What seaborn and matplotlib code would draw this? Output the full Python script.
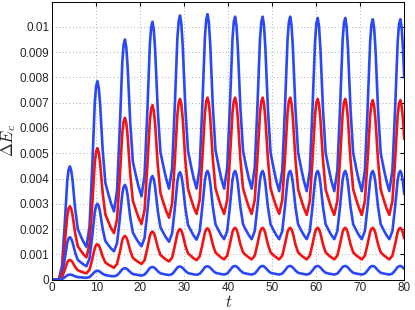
import numpy as np
import pandas as pd
import matplotlib
matplotlib.use("Agg")
import matplotlib.pyplot as plt
from matplotlib.ticker import FuncFormatter
import seaborn as sns

# time samples (denser around each peak)
t = [0, 0.5, 1.0,
     1.5, 2.2, 2.8, 3.4, 3.7, 4.0, 4.3, 4.6, 5.2, 5.8, 6.5, 7.1,
     7.76, 8.46, 9.06, 9.66, 9.96, 10.26, 10.56, 10.86, 11.46, 12.06, 12.76, 13.36,
     14.02, 14.72, 15.32, 15.92, 16.22, 16.52, 16.82, 17.12, 17.72, 18.32, 19.02, 19.62,
     20.28, 20.98, 21.58, 22.18, 22.48, 22.78, 23.08, 23.38, 23.98, 24.58, 25.28, 25.88,
     26.54, 27.24, 27.84, 28.44, 28.74, 29.04, 29.34, 29.64, 30.24, 30.84, 31.54, 32.14,
     32.80, 33.50, 34.10, 34.70, 35.00, 35.30, 35.60, 35.90, 36.50, 37.10, 37.80, 38.40,
     39.06, 39.76, 40.36, 40.96, 41.26, 41.56, 41.86, 42.16, 42.76, 43.36, 44.06, 44.66,
     45.32, 46.02, 46.62, 47.22, 47.52, 47.82, 48.12, 48.42, 49.02, 49.62, 50.32, 50.92,
     51.58, 52.28, 52.88, 53.48, 53.78, 54.08, 54.38, 54.68, 55.28, 55.88, 56.58, 57.18,
     57.84, 58.54, 59.14, 59.74, 60.04, 60.34, 60.64, 60.94, 61.54, 62.14, 62.84, 63.44,
     64.10, 64.80, 65.40, 66.00, 66.30, 66.60, 66.90, 67.20, 67.80, 68.40, 69.10, 69.70,
     70.36, 71.06, 71.66, 72.26, 72.56, 72.86, 73.16, 73.46, 74.06, 74.66, 75.36, 75.96,
     76.62, 77.32, 77.92, 78.52, 78.82, 79.12, 79.42, 79.72, 80.00]

# Delta E_c values, in units of 1e-3
e1 = [0, 0, 0,
      0, 0.54, 2.11, 3.90, 4.35, 4.48, 4.32, 3.94, 2.80, 2.00, 1.71, 1.49,
      1.30, 2.09, 4.38, 7.00, 7.65, 7.85, 7.59, 6.97, 5.12, 3.83, 3.37, 3.01,
      2.70, 3.52, 5.90, 8.62, 9.30, 9.50, 9.19, 8.45, 6.21, 4.66, 4.11, 3.67,
      3.30, 4.13, 6.54, 9.30, 9.99, 10.20, 9.87, 9.08, 6.70, 5.05, 4.46, 4.00,
      3.60, 4.42, 6.82, 9.56, 10.24, 10.45, 10.11, 9.29, 6.82, 5.11, 4.49, 4.01,
      3.60, 4.43, 6.84, 9.60, 10.29, 10.50, 10.16, 9.33, 6.84, 5.12, 4.50, 4.01,
      3.60, 4.42, 6.80, 9.52, 10.20, 10.40, 10.06, 9.24, 6.80, 5.10, 4.48, 4.01,
      3.60, 4.42, 6.80, 9.52, 10.20, 10.40, 10.06, 9.23, 6.74, 5.02, 4.40, 3.91,
      3.50, 4.33, 6.74, 9.50, 10.19, 10.40, 10.06, 9.23, 6.74, 5.02, 4.40, 3.91,
      3.50, 4.32, 6.72, 9.46, 10.15, 10.35, 10.01, 9.19, 6.72, 5.01, 4.39, 3.91,
      3.50, 4.32, 6.72, 9.46, 10.15, 10.35, 10.01, 9.19, 6.72, 5.01, 4.39, 3.91,
      3.50, 4.32, 6.70, 9.42, 10.10, 10.30, 9.96, 9.14, 6.70, 5.00, 4.38, 3.91,
      3.50, 4.32, 6.70, 9.42, 10.10, 10.30, 9.96, 9.14, 7.99]

e2 = [0, 0, 0,
      0, 0.35, 1.36, 2.52, 2.81, 2.90, 2.80, 2.56, 1.83, 1.32, 1.14, 1.00,
      0.88, 1.40, 2.91, 4.64, 5.07, 5.20, 5.03, 4.63, 3.42, 2.58, 2.28, 2.04,
      1.84, 2.39, 3.98, 5.81, 6.26, 6.40, 6.19, 5.69, 4.17, 3.12, 2.75, 2.45,
      2.20, 2.76, 4.41, 6.29, 6.76, 6.90, 6.68, 6.14, 4.54, 3.43, 3.03, 2.72,
      2.45, 3.01, 4.66, 6.54, 7.01, 7.15, 6.92, 6.38, 4.74, 3.60, 3.19, 2.87,
      2.60, 3.15, 4.76, 6.60, 7.06, 7.20, 6.97, 6.42, 4.76, 3.61, 3.20, 2.88,
      2.60, 3.15, 4.76, 6.60, 7.06, 7.20, 6.97, 6.42, 4.76, 3.61, 3.20, 2.88,
      2.60, 3.15, 4.76, 6.60, 7.06, 7.20, 6.97, 6.42, 4.76, 3.61, 3.20, 2.88,
      2.60, 3.15, 4.76, 6.60, 7.06, 7.20, 6.97, 6.41, 4.74, 3.58, 3.16, 2.84,
      2.56, 3.11, 4.72, 6.55, 7.01, 7.15, 6.92, 6.37, 4.72, 3.57, 3.16, 2.84,
      2.56, 3.11, 4.72, 6.55, 7.01, 7.15, 6.92, 6.37, 4.72, 3.57, 3.16, 2.84,
      2.56, 3.11, 4.69, 6.51, 6.96, 7.10, 6.87, 6.33, 4.69, 3.56, 3.15, 2.83,
      2.56, 3.11, 4.69, 6.51, 6.96, 7.10, 6.87, 6.33, 5.56]

e3 = [0, 0, 0,
      0, 0.20, 0.79, 1.46, 1.63, 1.68, 1.62, 1.48, 1.07, 0.78, 0.68, 0.60,
      0.53, 0.83, 1.69, 2.68, 2.93, 3.00, 2.91, 2.68, 2.00, 1.53, 1.36, 1.23,
      1.12, 1.44, 2.36, 3.41, 3.67, 3.75, 3.63, 3.34, 2.46, 1.86, 1.64, 1.47,
      1.32, 1.65, 2.63, 3.74, 4.02, 4.10, 3.97, 3.66, 2.72, 2.07, 1.84, 1.66,
      1.50, 1.83, 2.79, 3.89, 4.17, 4.25, 4.12, 3.80, 2.84, 2.17, 1.93, 1.74,
      1.58, 1.91, 2.86, 3.95, 4.22, 4.30, 4.17, 3.84, 2.87, 2.19, 1.95, 1.76,
      1.60, 1.92, 2.87, 3.95, 4.22, 4.30, 4.17, 3.84, 2.87, 2.19, 1.95, 1.76,
      1.60, 1.92, 2.87, 3.95, 4.22, 4.30, 4.17, 3.84, 2.87, 2.19, 1.95, 1.76,
      1.60, 1.92, 2.87, 3.95, 4.22, 4.30, 4.17, 3.84, 2.87, 2.19, 1.95, 1.76,
      1.60, 1.92, 2.87, 3.95, 4.22, 4.30, 4.17, 3.84, 2.87, 2.19, 1.95, 1.76,
      1.60, 1.92, 2.87, 3.95, 4.22, 4.30, 4.17, 3.84, 2.87, 2.19, 1.95, 1.76,
      1.60, 1.92, 2.87, 3.95, 4.22, 4.30, 4.17, 3.84, 2.87, 2.19, 1.95, 1.76,
      1.60, 1.92, 2.87, 3.95, 4.22, 4.30, 4.17, 3.84, 3.38]

e4 = [0, 0, 0,
      0, 0.09, 0.37, 0.68, 0.76, 0.78, 0.75, 0.69, 0.50, 0.37, 0.32, 0.28,
      0.25, 0.39, 0.79, 1.25, 1.37, 1.40, 1.35, 1.24, 0.91, 0.68, 0.59, 0.53,
      0.47, 0.62, 1.06, 1.57, 1.69, 1.73, 1.67, 1.54, 1.14, 0.86, 0.76, 0.69,
      0.62, 0.77, 1.22, 1.73, 1.86, 1.90, 1.84, 1.70, 1.28, 0.98, 0.87, 0.79,
      0.72, 0.87, 1.32, 1.83, 1.96, 2.00, 1.94, 1.79, 1.35, 1.04, 0.93, 0.84,
      0.77, 0.92, 1.36, 1.87, 1.99, 2.03, 1.97, 1.82, 1.38, 1.07, 0.96, 0.87,
      0.80, 0.95, 1.39, 1.89, 2.01, 2.05, 1.99, 1.84, 1.39, 1.08, 0.96, 0.88,
      0.80, 0.95, 1.39, 1.89, 2.01, 2.05, 1.99, 1.84, 1.39, 1.08, 0.96, 0.88,
      0.80, 0.95, 1.39, 1.89, 2.01, 2.05, 1.99, 1.84, 1.39, 1.08, 0.96, 0.88,
      0.80, 0.95, 1.39, 1.89, 2.01, 2.05, 1.99, 1.84, 1.39, 1.08, 0.96, 0.88,
      0.80, 0.95, 1.39, 1.89, 2.01, 2.05, 1.99, 1.84, 1.39, 1.08, 0.96, 0.88,
      0.80, 0.95, 1.39, 1.89, 2.01, 2.05, 1.99, 1.84, 1.39, 1.08, 0.96, 0.88,
      0.80, 0.95, 1.39, 1.89, 2.01, 2.05, 1.99, 1.84, 1.63]

e5 = [0, 0, 0,
      0, 0.02, 0.09, 0.17, 0.19, 0.20, 0.19, 0.18, 0.13, 0.10, 0.09, 0.08,
      0.07, 0.10, 0.20, 0.31, 0.34, 0.35, 0.34, 0.31, 0.23, 0.18, 0.16, 0.14,
      0.13, 0.17, 0.28, 0.41, 0.44, 0.45, 0.44, 0.40, 0.30, 0.22, 0.20, 0.18,
      0.16, 0.20, 0.32, 0.46, 0.49, 0.50, 0.48, 0.45, 0.33, 0.25, 0.22, 0.20,
      0.18, 0.22, 0.34, 0.48, 0.51, 0.52, 0.50, 0.46, 0.35, 0.26, 0.23, 0.21,
      0.19, 0.23, 0.35, 0.49, 0.52, 0.53, 0.51, 0.47, 0.36, 0.27, 0.24, 0.22,
      0.20, 0.24, 0.36, 0.50, 0.53, 0.54, 0.52, 0.48, 0.36, 0.27, 0.24, 0.22,
      0.20, 0.24, 0.36, 0.50, 0.53, 0.54, 0.52, 0.48, 0.36, 0.27, 0.24, 0.22,
      0.20, 0.24, 0.36, 0.50, 0.53, 0.54, 0.52, 0.48, 0.36, 0.27, 0.24, 0.22,
      0.20, 0.24, 0.36, 0.50, 0.53, 0.54, 0.52, 0.48, 0.36, 0.27, 0.24, 0.22,
      0.20, 0.24, 0.36, 0.50, 0.53, 0.54, 0.52, 0.48, 0.36, 0.27, 0.24, 0.22,
      0.20, 0.24, 0.36, 0.50, 0.53, 0.54, 0.52, 0.48, 0.36, 0.27, 0.24, 0.22,
      0.20, 0.24, 0.36, 0.50, 0.53, 0.54, 0.52, 0.48, 0.42]

curves = ["c1", "c2", "c3", "c4", "c5"]
colors = {"c1": "#2a48f5", "c2": "#f01414", "c3": "#2a48f5",
          "c4": "#f01414", "c5": "#2a48f5"}

frames = []
for name, vals in zip(curves, [e1, e2, e3, e4, e5]):
    frames.append(pd.DataFrame({"t": t, "dE": np.array(vals) * 1e-3, "curve": name}))
df = pd.concat(frames, ignore_index=True)

sns.set_style("white")
plt.rcParams["font.family"] = ["Liberation Sans", "DejaVu Sans"]
plt.rcParams["mathtext.fontset"] = "cm"

fig = plt.figure(figsize=(4.15, 3.10), dpi=100)
ax = fig.add_axes([0.126, 0.098, 0.848, 0.897])

sns.lineplot(data=df, x="t", y="dE", hue="curve", palette=colors,
             linewidth=1.9, legend=False, errorbar=None, sort=False, ax=ax)

ax.set_xlim(0, 80)
ax.set_ylim(0, 0.011)
ax.set_xticks(np.arange(0, 81, 10))
ax.set_yticks(np.arange(0, 0.0105, 0.001))
ax.yaxis.set_major_formatter(FuncFormatter(lambda v, p: "%g" % round(v, 4)))
ax.grid(True, color="#b0b0b0", linestyle=(0, (1, 2.5)), linewidth=0.7)
ax.tick_params(direction="in", length=3, labelsize=8.5, top=True, right=True,
               color="black", pad=2)
for s in ax.spines.values():
    s.set_color("black")
    s.set_linewidth(0.7)

ax.set_xlabel("$t$", fontsize=12, labelpad=0)
ax.set_ylabel(r"$\Delta E_c$", fontsize=12, labelpad=1)

fig.savefig("out.png", dpi=100)
